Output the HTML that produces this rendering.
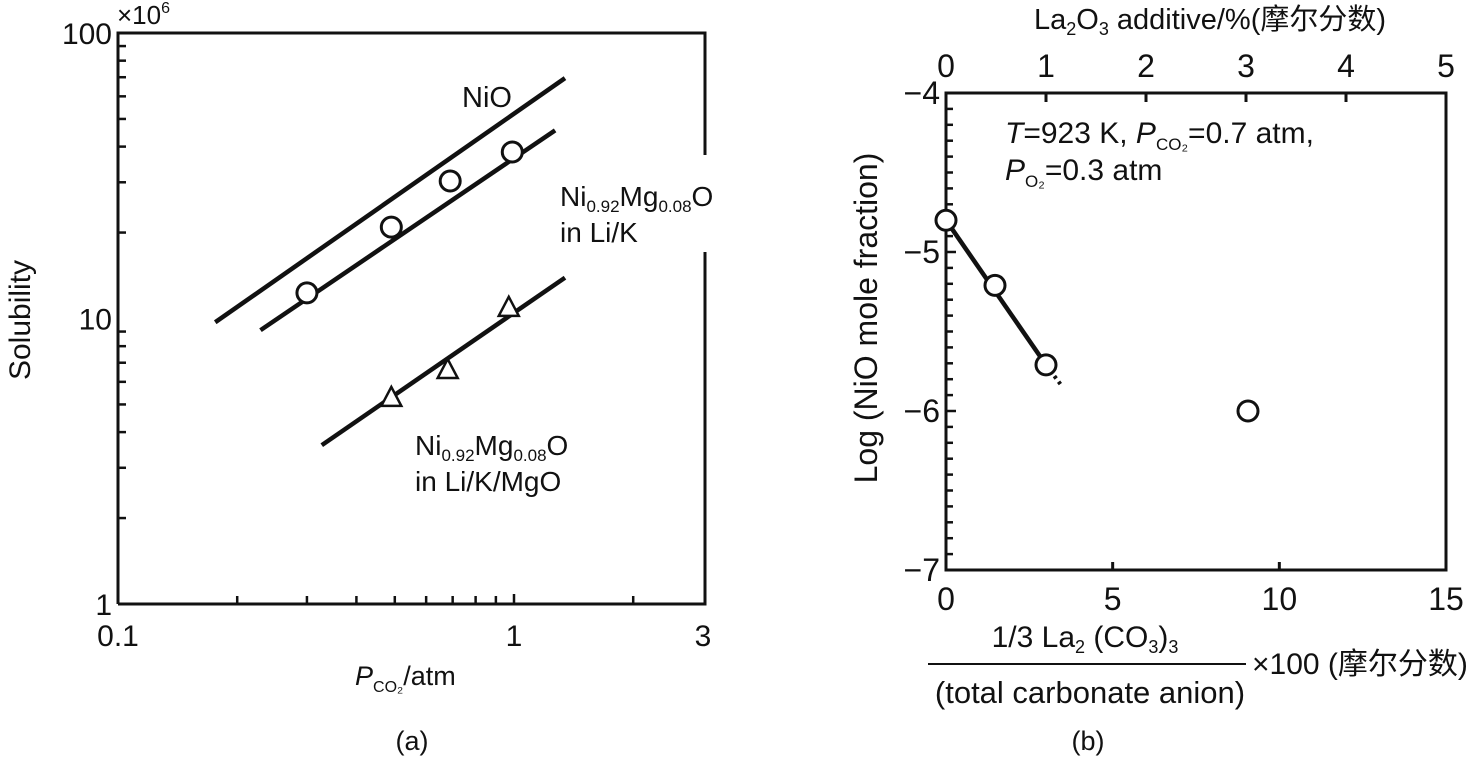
<!DOCTYPE html>
<html><head><meta charset="utf-8"><style>
body{margin:0;background:#fff;}
svg{display:block;font-family:"Liberation Sans","Noto Sans CJK SC",sans-serif;}
text{fill:#111;}
</style></head><body>
<svg id="chart" width="1480" height="757" viewBox="0 0 1480 757"></svg>
<script>
// Panel (a) data
const circX=[0.30,0.49,0.69,0.99];
const circY=[12.3,20.9,30.3,38.3];
const triX=[0.49,0.68,0.97];
const triY=[5.27,6.6,10.9];
const lineNiO=[[0.176,9.7],[1.345,69.5]];
const lineLiK=[[0.229,9.1],[1.27,45.6]];
const lineMgO=[[0.327,3.6],[1.345,13.9]];
const xTicksA=[0.1,1,3];
const yTicksA=[1,10,100];
// Panel (b) data
const bX=[0,1.47,3.0,9.06];
const bY=[-4.8,-5.21,-5.71,-6.0];
const bFitX=[0,3.0];
const bExtX=[3.0,3.5];
const bExtY=[-5.71,-5.85];
const xTicksB=[0,5,10,15];
const topTicksB=[0,1,2,3,4,5];
const yTicksB=[-4,-5,-6,-7];

const NS='http://www.w3.org/2000/svg';
const svg=document.getElementById('chart');
function el(tag,attrs,parent){const e=document.createElementNS(NS,tag);for(const k in attrs)e.setAttribute(k,attrs[k]);(parent||svg).appendChild(e);return e;}

const aL=118,aR=705,aT=33,aB=604;
const ax=v=>aL+(Math.log10(v)+1)*396;
const ay=v=>aB-Math.log10(v)*285.5;
const bL=946,bR=1446,bT=93,bB=570;
const bx=v=>bL+v*(bR-bL)/15;
const btx=v=>bL+v*(bR-bL)/5;
const by=v=>bT+(-4-v)*(bB-bT)/3;

// ---- Panel a ----
const ga=el('g',{});


const frameA=el('path',{d:`M${aL},${aB}V${aT}H${aR}V155M${aR},252V${aB}H${aL}`,fill:'none',stroke:'#111','stroke-width':3},ga);


for(let d=0;d<2;d++)for(let m=2;m<=9;m++){const t=el('line',{x1:aL,x2:aL+8,y1:ay(m*Math.pow(10,d)),y2:ay(m*Math.pow(10,d)),stroke:'#111','stroke-width':2.5},ga);}
for(let m=2;m<=9;m++){const t=el('line',{x1:ax(m/10),x2:ax(m/10),y1:aB,y2:aB-8,stroke:'#111','stroke-width':2.5},ga);}
{const t=el('line',{x1:ax(1),x2:ax(1),y1:aB,y2:aB-10,stroke:'#111','stroke-width':2.5},ga);}
{const t=el('line',{x1:ax(2),x2:ax(2),y1:aB,y2:aB-8,stroke:'#111','stroke-width':2.5},ga);}
xTicksA.forEach(v=>{const t=el('text',{x:ax(v),y:aB+42,'font-size':30,'text-anchor':'middle'},ga);t.textContent=String(v);});
yTicksA.forEach(v=>{const t=el('text',{x:aL-6,y:ay(v)+11,'font-size':30,'text-anchor':'end'},ga);t.textContent=String(v);});
[[lineNiO,'fit-line-nio'],[lineLiK,'fit-line-li-k'],[lineMgO,'fit-line-li-k-mgo']].forEach(([l,n])=>{const e=el('line',{x1:ax(l[0][0]),y1:ay(l[0][1]),x2:ax(l[1][0]),y2:ay(l[1][1]),stroke:'#111','stroke-width':4.5},ga);});
circX.forEach((v,i)=>{const c=el('circle',{cx:ax(v),cy:ay(circY[i]),r:10,fill:'#fff',stroke:'#111','stroke-width':3},ga);});
triX.forEach((v,i)=>{const x=ax(v),y=ay(triY[i]);const p=el('polygon',{points:`${x},${y-11} ${x-10},${y+8} ${x+10},${y+8}`,fill:'#fff',stroke:'#111','stroke-width':2.5},ga);});

// ---- Panel b ----
const gb=el('g',{});


const frameB=el('rect',{x:bL,y:bT,width:bR-bL,height:bB-bT,fill:'none',stroke:'#111','stroke-width':3},gb);


for(let k=1;k<30;k++){const v=-4-k*0.1;const t=el('line',{x1:bL,x2:bL+(k%10==0?10:7),y1:by(v),y2:by(v),stroke:'#111','stroke-width':2.5},gb);}
[5,10].forEach(v=>{const t=el('line',{x1:bx(v),x2:bx(v),y1:bB,y2:bB-8,stroke:'#111','stroke-width':3},gb);});
[1,2,3,4].forEach(v=>{const t=el('line',{x1:btx(v),x2:btx(v),y1:bT,y2:bT+9,stroke:'#111','stroke-width':3},gb);});
xTicksB.forEach(v=>{const t=el('text',{x:bx(v),y:bB+40,'font-size':32,'text-anchor':'middle'},gb);t.textContent=String(v);});
topTicksB.forEach(v=>{const t=el('text',{x:btx(v),y:bT-16,'font-size':32,'text-anchor':'middle'},gb);t.textContent=String(v);});
yTicksB.forEach(v=>{const t=el('text',{x:bL-6,y:by(v)+11,'font-size':32,'text-anchor':'end'},gb);t.textContent='\u2212'+Math.abs(v);});
{const l=el('line',{x1:bx(bFitX[0]),y1:by(bY[0]),x2:bx(bFitX[1]),y2:by(bY[2]),stroke:'#111','stroke-width':4.5},gb);}
{const l=el('line',{x1:bx(bExtX[0]),y1:by(bExtY[0]),x2:bx(bExtX[1]),y2:by(bExtY[1]),stroke:'#111','stroke-width':4,'stroke-dasharray':'3 4'},gb);}
bX.forEach((v,i)=>{const c=el('circle',{cx:bx(v),cy:by(bY[i]),r:10,fill:'#fff',stroke:'#111','stroke-width':3},gb);});
</script>
<svg width="1480" height="757" style="position:absolute;left:0;top:0">
<text x="117" y="24" font-size="26">×10<tspan font-size="16" dy="-11">6</tspan></text>
<text transform="translate(30,320) rotate(-90)" font-size="30" text-anchor="middle">Solubility</text>
<text x="355" y="685" font-size="27"><tspan font-style="italic">P</tspan><tspan font-size="16" dy="7">CO₂</tspan><tspan dy="-7">/atm</tspan></text>
<text x="412" y="750" font-size="27" text-anchor="middle">(a)</text>
<text x="462" y="107" font-size="29">NiO</text>
<text x="560" y="206" font-size="28">Ni<tspan font-size="17" dy="6">0.92</tspan><tspan dy="-6">Mg</tspan><tspan font-size="17" dy="6">0.08</tspan><tspan dy="-6">O</tspan></text>
<text x="560" y="242" font-size="28">in Li/K</text>
<text x="415" y="455" font-size="28">Ni<tspan font-size="17" dy="6">0.92</tspan><tspan dy="-6">Mg</tspan><tspan font-size="17" dy="6">0.08</tspan><tspan dy="-6">O</tspan></text>
<text x="415" y="491" font-size="28">in Li/K/MgO</text>
<text x="1210" y="29" font-size="29" text-anchor="middle">La<tspan font-size="18" dy="6">2</tspan><tspan dy="-6">O</tspan><tspan font-size="18" dy="6">3</tspan><tspan dy="-6"> additive/%(摩尔分数)</tspan></text>
<text transform="translate(877,318) rotate(-90)" font-size="32" text-anchor="middle">Log (NiO mole fraction)</text>
<text x="1005" y="143" font-size="30"><tspan font-style="italic">T</tspan>=923 K, <tspan font-style="italic">P</tspan><tspan font-size="17" dy="7">CO₂</tspan><tspan dy="-7">=0.7 atm,</tspan></text>
<text x="1005" y="180" font-size="30"><tspan font-style="italic">P</tspan><tspan font-size="17" dy="7">O₂</tspan><tspan dy="-7">=0.3 atm</tspan></text>
<text x="1085" y="647" font-size="30" text-anchor="middle">1/3 La<tspan font-size="18" dy="6">2</tspan><tspan dy="-6"> (CO</tspan><tspan font-size="18" dy="6">3</tspan><tspan dy="-6">)</tspan><tspan font-size="18" dy="6">3</tspan></text>
<line x1="928" y1="664" x2="1246" y2="664" stroke="#111" stroke-width="2"/>
<text x="1090" y="703" font-size="31" text-anchor="middle">(total carbonate anion)</text>
<text x="1252" y="674" font-size="30">×100 (摩尔分数)</text>
<text x="1088" y="750" font-size="27" text-anchor="middle">(b)</text>
</svg>
</body></html>
